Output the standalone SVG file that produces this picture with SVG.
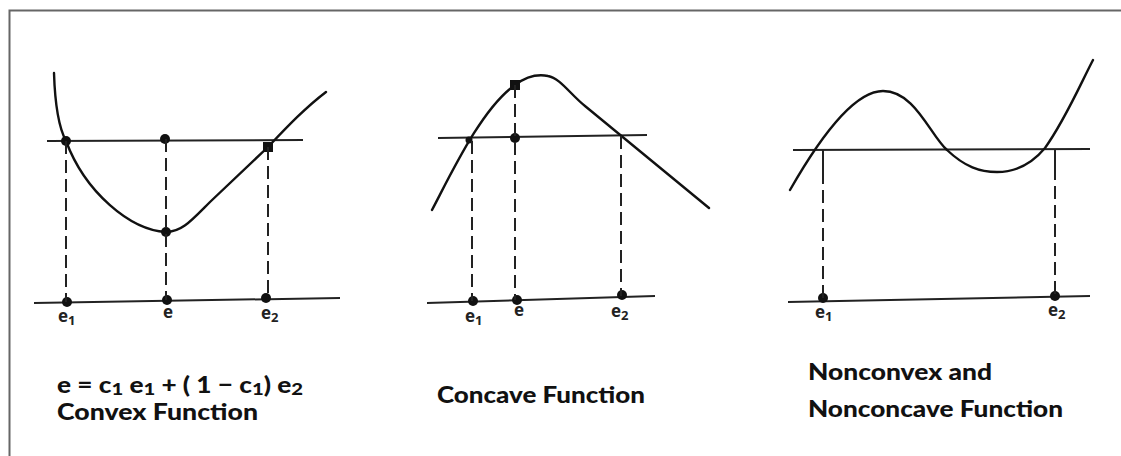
<svg xmlns="http://www.w3.org/2000/svg" width="1121" height="456" viewBox="0 0 1121 456">
<defs>
<style>
.curve{fill:none;stroke:#111;stroke-width:2.4;stroke-linecap:round}
.axis{fill:none;stroke:#222;stroke-width:2}
.dash{fill:none;stroke:#222;stroke-width:2;stroke-dasharray:13 6}
.dot{fill:#111}
.lbl{font-family:"Open Sans","Liberation Sans",sans-serif;font-weight:bold;font-size:17px;fill:#222}
.sub{font-size:13px}
.cap{font-family:Lato,"Liberation Sans",sans-serif;font-weight:900;font-size:22px;fill:#111}
.csub{font-size:17px}
</style>
</defs>
<rect x="0" y="0" width="1121" height="456" fill="#fff"/>
<path d="M9.5,456 V10.5 H1121" fill="none" stroke="#666" stroke-width="2"/>

<g id="convex">
<line class="axis" x1="47" y1="141" x2="303" y2="140"/>
<line class="axis" x1="34" y1="303" x2="340" y2="298"/>
<path class="curve" d="M54,73 C55,105 58,126 66,141 C85,192 130,230 166,232 C182,232 192,220 210,202 L268,147 C288,126 305,108 326,92"/>
<circle class="dot" cx="66" cy="141" r="5"/>
<circle class="dot" cx="165" cy="139" r="5"/>
<rect class="dot" x="263" y="142" width="10" height="10"/>
<circle class="dot" cx="166" cy="232" r="5"/>
<circle class="dot" cx="67" cy="302" r="5"/>
<circle class="dot" cx="167" cy="300" r="5"/>
<circle class="dot" cx="266" cy="298" r="5"/>
<text class="lbl" x="58" y="322">e<tspan class="sub" dy="3">1</tspan></text>
<text class="lbl" x="163" y="318">e</text>
<text class="lbl" x="261" y="319">e<tspan class="sub" dy="3">2</tspan></text>
<text class="cap" x="57" y="393" textLength="246" lengthAdjust="spacingAndGlyphs">e = c<tspan class="csub" baseline-shift="-2">1</tspan> e<tspan class="csub" baseline-shift="-2">1</tspan> + ( 1 − c<tspan class="csub" baseline-shift="-2">1</tspan>) e<tspan class="csub" baseline-shift="-2">2</tspan></text>
<text class="cap" x="57" y="420" textLength="201" lengthAdjust="spacingAndGlyphs">Convex Function</text>
</g>

<g id="concave">
<line class="axis" x1="438" y1="138" x2="647" y2="135"/>
<line class="axis" x1="427" y1="303" x2="655" y2="296"/>
<path class="curve" d="M432,210 C452,172 482,108 515,85 C527,76 538,74 548,76 C560,78 570,94 585,106 L709,208"/>
<circle class="dot" cx="469" cy="140" r="3.5"/>
<rect class="dot" x="510" y="80" width="10" height="10"/>
<circle class="dot" cx="515" cy="138" r="5"/>
<circle class="dot" cx="473" cy="301" r="5"/>
<circle class="dot" cx="517" cy="300" r="5"/>
<circle class="dot" cx="622" cy="295" r="5"/>
<text class="lbl" x="465" y="322">e<tspan class="sub" dy="3">1</tspan></text>
<text class="lbl" x="514" y="316">e</text>
<text class="lbl" x="611" y="317">e<tspan class="sub" dy="3">2</tspan></text>
<text class="cap" x="437" y="403" textLength="208" lengthAdjust="spacingAndGlyphs">Concave Function</text>
</g>

<g id="nonconvex">
<line class="axis" x1="793" y1="150" x2="1090" y2="149"/>
<line class="axis" x1="788" y1="302" x2="1090" y2="296"/>
<path class="curve" d="M790,190 C810,155 850,91 883,91 C915,91 930,135 947,150 C965,167 980,172 997,172 C1020,172 1035,160 1045,148 C1065,120 1080,85 1093,60"/>
<circle class="dot" cx="823" cy="298" r="5"/>
<circle class="dot" cx="1055" cy="296" r="5"/>
<text class="lbl" x="815" y="318">e<tspan class="sub" dy="3">1</tspan></text>
<text class="lbl" x="1048" y="316">e<tspan class="sub" dy="3">2</tspan></text>
<text class="cap" x="808" y="380" textLength="184" lengthAdjust="spacingAndGlyphs">Nonconvex and</text>
<text class="cap" x="808" y="417" textLength="255" lengthAdjust="spacingAndGlyphs">Nonconcave Function</text>
</g>

<g id="connectors">
<line class="dash" x1="66" y1="141" x2="66" y2="302"/>
<line class="dash" x1="166" y1="139" x2="166" y2="300"/>
<line class="dash" x1="268" y1="147" x2="268" y2="298"/>
<line class="dash" x1="472" y1="141" x2="472" y2="301"/>
<line class="dash" x1="515" y1="85" x2="515" y2="300"/>
<line class="dash" x1="621" y1="136" x2="621" y2="296"/>
<line class="axis" x1="823" y1="150" x2="823" y2="184"/>
<line class="dash" x1="823" y1="190" x2="823" y2="298"/>
<line class="axis" x1="1055" y1="149" x2="1055" y2="180"/>
<line class="dash" x1="1055" y1="186" x2="1055" y2="296"/>
</g>
</svg>
